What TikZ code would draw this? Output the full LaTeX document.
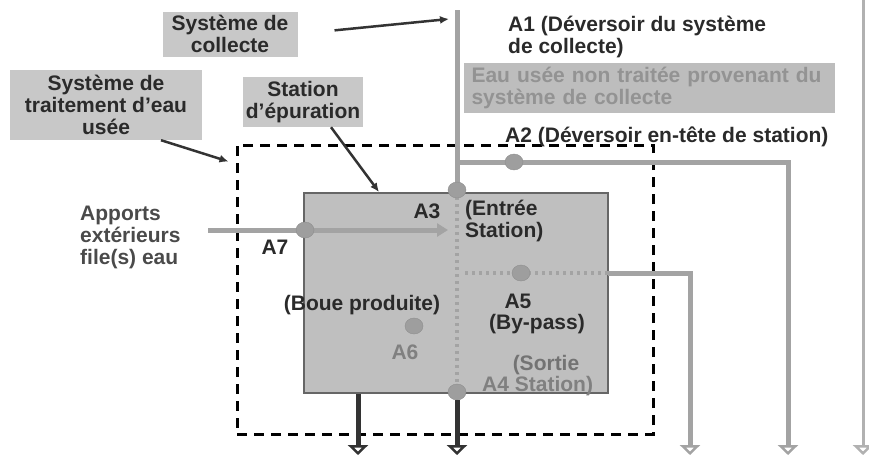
\documentclass[tikz,border=0pt]{standalone}
\usepackage{fontspec}
\setmainfont{Liberation Sans}
\usepackage{xcolor}
\usepackage{tikz}
\usetikzlibrary{shapes,arrows,arrows.meta}
\definecolor{boxgray}{HTML}{C8C8C8}
\definecolor{notegray}{HTML}{BDBDBD}
\definecolor{stationgray}{HTML}{BFBFBF}
\definecolor{pipegray}{HTML}{A3A3A3}
\definecolor{dotgray}{HTML}{9E9E9E}
\definecolor{darkline}{HTML}{333333}
\definecolor{labeltext}{HTML}{2A2A2A}
\tikzstyle{titleBlock} = [rectangle, fill=boxgray, text=labeltext, align=center, inner sep=0pt]
\tikzstyle{tag} = [text=labeltext, inner sep=0pt]
\tikzstyle{tagleft} = [tag, align=left, anchor=west]
\tikzstyle{point} = [ellipse, fill=dotgray, draw=dotgray!90!black, minimum width=18pt, minimum height=16pt, inner sep=0pt]
\tikzstyle{pipe} = [draw=pipegray, line width=5pt]
\tikzstyle{outlet} = [pipe, -{Triangle[open, width=20pt, length=10pt, line width=2.5pt]}]
\tikzstyle{drain} = [draw=darkline, line width=5pt, -{Triangle[open, width=20pt, length=10pt, line width=2.5pt]}]
\tikzstyle{seam} = [draw=pipegray, line width=4pt, dash pattern=on 3pt off 4pt]
\tikzstyle{pointer} = [draw=darkline, line width=2.5pt, -{Latex[length=9pt, width=8pt]}]
\begin{document}
\begin{tikzpicture}[x=1pt, y=-1pt, font=\fontsize{21}{22}\selectfont\bfseries]
    \useasboundingbox (0,0) rectangle (869,459);
    % Place nodes
    \node [titleBlock, minimum width=135pt, minimum height=45pt] (collecte) at (230,34) {Système de\\collecte};
    \node [titleBlock, minimum width=192pt, minimum height=70pt] (traitement) at (106,105) {Système de\\traitement d'eau\\usée};
    \node [titleBlock, minimum width=120pt, minimum height=50pt] (epuration) at (303,102) {Station\\d'épuration};
    \node [titleBlock, fill=notegray, text=gray!85, minimum width=371pt, minimum height=50pt, align=left, text width=355pt] (nontraitee) at (649,88) {Eau usée non traitée provenant du\\système de collecte};
    \node [draw, line width=3pt, dash pattern=on 10pt off 7pt, minimum width=416pt, minimum height=289pt] (boundary) at (445,289.5) {};
    \node [rectangle, draw=darkline!75, line width=2pt, fill=stationgray, minimum width=304pt, minimum height=200pt] (station) at (456,293) {};
    % Pipe points
    \coordinate (a1top) at (457,10);
    \coordinate (a3pt) at (457,190);
    \coordinate (a2split) at (457,162);
    \coordinate (a2pt) at (514,162);
    \coordinate (a2turn) at (788,162);
    \coordinate (a2out) at (788,455);
    \coordinate (a5start) at (465,273);
    \coordinate (a5pt) at (521,273);
    \coordinate (a5wall) at (608,273);
    \coordinate (a5turn) at (690,273);
    \coordinate (a5out) at (690,455);
    \coordinate (a7in) at (208,230);
    \coordinate (a7pt) at (305,230);
    \coordinate (a7tip) at (448,230);
    \coordinate (a4pt) at (457,392);
    \coordinate (a4out) at (457,455);
    \coordinate (a6out) at (358,455);
    \coordinate (rivertop) at (863,0);
    \coordinate (riverout) at (863,455);
    % Draw pipes
    \path [seam] (a3pt) -- (a4pt);
    \path [seam] (a5start) -- (a5wall);
    \path [pipe] (a1top) -- (a3pt);
    \path [outlet] (a2split) -- (a2turn) -- (a2out);
    \path [outlet] (a5wall) -- (a5turn) -- (a5out);
    \path [pipe, -{Triangle[width=13pt, length=11pt]}] (a7in) -- (a7tip);
    \path [outlet, draw=pipegray!85, line width=3pt] (rivertop) -- (riverout);
    % Place points
    \node [point] (a3) at (a3pt) {};
    \node [point] (a2) at (a2pt) {};
    \node [point] (a5) at (a5pt) {};
    \node [point] (a7) at (a7pt) {};
    \node [point] (a4) at (a4pt) {};
    \node [point] (a6) at (414,326) {};
    \path [drain] (station.south -| a6out) -- (a6out);
    \path [drain] (a4.south) -- (a4out);
    % Labels
    \node [tagleft] (a1text) at (508,37) {A1 (Déversoir du système\\de collecte)};
    \node [tagleft] (a2text) at (505,137) {A2 (Déversoir en-tête de station)};
    \node [tag] (a3text) at (427,211) {A3};
    \node [tagleft] (entree) at (465,221) {(Entrée\\Station)};
    \node [tag] (a7text) at (275,247) {A7};
    \node [tagleft, text=labeltext!85] (apports) at (80,237) {Apports\\extérieurs\\file(s) eau};
    \node [tag] (boue) at (362,305) {(Boue produite)};
    \node [tag] (a5text) at (518,301) {A5};
    \node [tag] (bypass) at (537,324) {(By-pass)};
    \node [tag, text=gray] (a6text) at (405,352) {A6};
    \node [tag, text=gray!90!black] (sortie) at (546,365) {(Sortie};
    \node [tag, text=gray, anchor=west] (a4text) at (482,386) {A4 Station)};
    % Draw edges
    \path [pointer, shorten <=37pt] (collecte.east) -- ([xshift=-8pt, yshift=-9pt]a1top);
    \path [pointer] ([xshift=55pt]traitement.south) -- ([xshift=-7pt, yshift=-18pt]boundary.north west);
    \path [pointer] ([xshift=28pt]epuration.south) -- ([xshift=76pt]station.north west);
\end{tikzpicture}
\end{document}
